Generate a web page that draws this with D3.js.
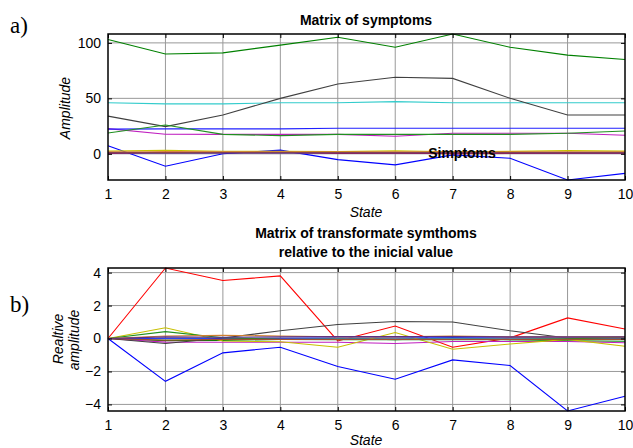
<!DOCTYPE html>
<html>
<head>
<meta charset="utf-8">
<script src="https://cdn.jsdelivr.net/npm/d3@7"></script>
<style>
  body { margin: 0; background: #fff; }
  text { font-family: "Liberation Sans", Arial, sans-serif; }
  text.serif { font-family: "Liberation Serif", "Times New Roman", serif; }
</style>
</head>
<body>
<script>
// states on the x axis
var states = [1, 2, 3, 4, 5, 6, 7, 8, 9, 10];

// a) matrix of symptoms (amplitude)
var symBlueLow   = [7.3, -11.2, 0, 3.3, -5.2, -10, -1, -4, -23.6, -17.6];
var symGreenTop  = [103, 90, 91, 98, 105, 96, 108, 96, 89, 85];
var symRed       = [0.3, 1.5, 1.3, 1.4, 0.3, 0.5, 0.2, 0.3, 0.6, 0.5];
var symCyan      = [46, 45, 45, 46, 46, 47, 46, 46, 46, 46];
var symMagenta   = [22.7, 17.6, 17.5, 17.5, 17.5, 15.8, 18.5, 18.5, 18.5, 16.7];
var symYellow    = [2.5, 3.2, 2.3, 2.3, 2.0, 2.8, 1.9, 2.2, 3.0, 2.4];
var symGray      = [34, 24.5, 35, 50, 63, 69, 68, 50, 35, 35];
var symBlue      = [22.3, 22.5, 22.5, 22.5, 23, 23, 23, 23, 23, 23];
var symGreen     = [18.8, 26, 17.5, 16.4, 17.5, 17.5, 17.5, 17.5, 18.5, 20.6];
var symOrange    = [1.8, 1.9, 1.9, 1.8, 1.8, 1.8, 1.8, 1.8, 1.9, 1.8];
var symBrown     = [1.2, 1.1, 1.2, 1.2, 1.2, 1.2, 1.2, 1.2, 1.2, 1.2];
var symPurple    = [0.6, 0.5, 0.6, 0.6, 0.6, 0.6, 0.6, 0.6, 0.6, 0.6];

// b) transformed symptoms relative to the initial value
var relBlueLow   = [0, -2.6, -0.87, -0.53, -1.7, -2.47, -1.3, -1.64, -4.4, -3.5];
var relGreenTop  = [0, -0.13, -0.12, -0.05, 0.02, -0.07, 0.05, -0.07, -0.14, -0.17];
var relRed       = [0, 4.28, 3.52, 3.8, -0.15, 0.76, -0.53, 0.04, 1.25, 0.58];
var relCyan      = [0, -0.02, 0.02, 0.02, 0.02, 0.03, 0.02, 0.02, 0.02, 0.02];
var relMagenta   = [0, -0.22, -0.23, -0.23, -0.23, -0.3, -0.18, -0.18, -0.18, -0.26];
var relYellow    = [0, 0.65, -0.15, -0.2, -0.53, 0.36, -0.65, -0.33, -0.05, -0.47];
var relGray      = [0, -0.3, 0.03, 0.47, 0.85, 1.03, 1.0, 0.47, 0.03, 0.03];
var relBlue      = [0, 0.02, 0.02, 0.02, 0.05, 0.05, 0.05, 0.05, 0.05, 0.05];
var relGreen     = [0, 0.42, 0.05, -0.05, -0.07, -0.07, -0.07, -0.07, -0.02, 0.1];
var relOrange    = [0, 0.15, 0.2, 0.15, 0.1, 0.1, 0.15, 0.1, 0.1, 0.1];
var relBrown     = [0, -0.1, -0.05, -0.05, -0.05, -0.05, -0.05, -0.05, -0.05, -0.05];
var relPurple    = [0, 0.1, 0.08, 0.1, 0.12, 0.12, 0.12, 0.1, 0.1, 0.1];

var lineColors = ["#0000ff", "#008000", "#ff0000", "#33cccc", "#c020c0", "#c8c000",
                  "#404040", "#2020ff", "#209020", "#d08030", "#a05030", "#603080"];

var symSeries = [symBlueLow, symGreenTop, symRed, symCyan, symMagenta, symYellow,
                 symGray, symBlue, symGreen, symOrange, symBrown, symPurple];
var relSeries = [relBlueLow, relGreenTop, relRed, relCyan, relMagenta, relYellow,
                 relGray, relBlue, relGreen, relOrange, relBrown, relPurple];

var symTicks = [0, 50, 100];
var relTicks = [-4, -2, 0, 2, 4];

var svg = d3.select("body").append("svg")
  .attr("width", 633)
  .attr("height", 448);

function drawPanel(series, yTicks, box) {
  var x = d3.scaleLinear()
    .domain(d3.extent(states))
    .range([box.left, box.right]);
  var y = d3.scaleLinear()
    .domain([d3.min(series, function (s) { return d3.min(s); }),
             d3.max(series, function (s) { return d3.max(s); })])
    .range([box.bottom, box.top]);

  var g = svg.append("g");

  // grid
  g.append("g").selectAll("line")
    .data(states.slice(1, -1))
    .enter().append("line")
    .attr("x1", function (d) { return x(d); })
    .attr("x2", function (d) { return x(d); })
    .attr("y1", box.top).attr("y2", box.bottom)
    .attr("stroke", "#999").attr("stroke-width", 1);
  g.append("g").selectAll("line")
    .data(yTicks)
    .enter().append("line")
    .attr("x1", box.left).attr("x2", box.right)
    .attr("y1", function (d) { return y(d); })
    .attr("y2", function (d) { return y(d); })
    .attr("stroke", "#999").attr("stroke-width", 1);

  // series lines
  var line = d3.line()
    .x(function (d, i) { return x(states[i]); })
    .y(function (d) { return y(d); });
  g.append("g").selectAll("path")
    .data(series)
    .enter().append("path")
    .attr("d", line)
    .attr("fill", "none")
    .attr("stroke", function (d, i) { return lineColors[i]; })
    .attr("stroke-width", 1.1);

  // axes with inward ticks
  g.append("g")
    .attr("transform", "translate(0," + box.bottom + ")")
    .call(d3.axisBottom(x).tickValues(states).tickSizeInner(-4).tickSizeOuter(0).tickPadding(9))
    .call(function (a) {
      a.select(".domain").remove();
      a.selectAll("text").attr("font-size", 14);
    });
  g.append("g")
    .attr("transform", "translate(0," + box.top + ")")
    .call(d3.axisTop(x).tickValues(states).tickSizeInner(-4).tickSizeOuter(0).tickFormat(""))
    .select(".domain").remove();
  g.append("g")
    .attr("transform", "translate(" + box.left + ",0)")
    .call(d3.axisLeft(y).tickValues(yTicks).tickSizeInner(-4).tickSizeOuter(0).tickPadding(7))
    .call(function (a) {
      a.select(".domain").remove();
      a.selectAll("text").attr("font-size", 14);
    });
  g.append("g")
    .attr("transform", "translate(" + box.right + ",0)")
    .call(d3.axisRight(y).tickValues(yTicks).tickSizeInner(-4).tickSizeOuter(0).tickFormat(""))
    .select(".domain").remove();

  // frame
  g.append("rect")
    .attr("x", box.left).attr("y", box.top)
    .attr("width", box.right - box.left)
    .attr("height", box.bottom - box.top)
    .attr("fill", "none").attr("stroke", "#000").attr("stroke-width", 1.5);

  return { x: x, y: y };
}

drawPanel(symSeries, symTicks, { left: 108, right: 625, top: 34, bottom: 180 });
drawPanel(relSeries, relTicks, { left: 108, right: 625, top: 268, bottom: 411 });

// titles and labels
svg.append("text").attr("x", 366).attr("y", 25)
  .attr("text-anchor", "middle").attr("font-size", 14).attr("font-weight", "bold")
  .text("Matrix of symptoms");
svg.append("text").attr("x", 366).attr("y", 238)
  .attr("text-anchor", "middle").attr("font-size", 14).attr("font-weight", "bold")
  .text("Matrix of transformate symthoms");
svg.append("text").attr("x", 366).attr("y", 257)
  .attr("text-anchor", "middle").attr("font-size", 14).attr("font-weight", "bold")
  .text("relative to the inicial value");

svg.append("text").attr("x", 366).attr("y", 217)
  .attr("text-anchor", "middle").attr("font-size", 14).attr("font-style", "italic")
  .text("State");
svg.append("text").attr("x", 366).attr("y", 445)
  .attr("text-anchor", "middle").attr("font-size", 14).attr("font-style", "italic")
  .text("State");

svg.append("text").attr("transform", "translate(70,108) rotate(-90)")
  .attr("text-anchor", "middle").attr("font-size", 14).attr("font-style", "italic")
  .text("Amplitude");
svg.append("text").attr("transform", "translate(63,339) rotate(-90)")
  .attr("text-anchor", "middle").attr("font-size", 14).attr("font-style", "italic")
  .text("Realtive");
svg.append("text").attr("transform", "translate(79,340) rotate(-90)")
  .attr("text-anchor", "middle").attr("font-size", 14).attr("font-style", "italic")
  .text("amplitude");

svg.append("text").attr("x", 462).attr("y", 158)
  .attr("text-anchor", "middle").attr("font-size", 14).attr("font-weight", "bold")
  .text("Simptoms");

svg.append("text").attr("class", "serif").attr("x", 10).attr("y", 33)
  .attr("font-size", 23)
  .text("a)");
svg.append("text").attr("class", "serif").attr("x", 10).attr("y", 312)
  .attr("font-size", 23)
  .text("b)");
</script>
</body>
</html>
